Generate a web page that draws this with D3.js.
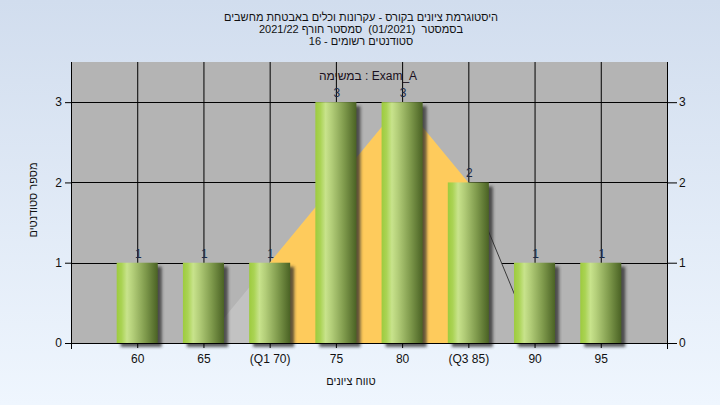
<!DOCTYPE html>
<html><head><meta charset="utf-8">
<script src="https://cdn.jsdelivr.net/npm/d3@7"></script>
<style>body{margin:0;padding:0;overflow:hidden}svg{display:block}text{font-family:"Liberation Sans",Arial,sans-serif}</style>
</head><body>
<svg id="c" width="720" height="405"></svg>
<script>
const categories = [60, 65, 70, 75, 80, 85, 90, 95];
const tickLabels = ["60", "65", "(Q1 70)", "75", "80", "(Q3 85)", "90", "95"];
const counts = [1, 1, 1, 3, 3, 2, 1, 1];
const curveX = [60, 65, 70, 75, 80, 85, 90, 95];
const curveY = [0, 0, 1, 2, 3, 2, 0, 0];
const yTicks = [0, 1, 2, 3];
const titleLines = ["היסטוגרמת ציונים בקורס - עקרונות וכלים באבטחת מחשבים", "בסמסטר  (01/2021)  סמסטר חורף 2021/22", "סטודנטים רשומים - 16"];
const taskLabel = "במשימה : Exam_A";
const xTitle = "טווח ציונים";
const yTitle = "מספר סטודנטים";

const svg = d3.select("#c");
const defs = svg.append("defs");
const bg = defs.append("linearGradient").attr("id","bg").attr("x1",0).attr("y1",0).attr("x2",0).attr("y2",1);
bg.append("stop").attr("offset",0).attr("stop-color","#d1ddee");
bg.append("stop").attr("offset",1).attr("stop-color","#eff6fe");
svg.append("rect").attr("width",720).attr("height",405).attr("fill","url(#bg)");

const L=71, R=667, T=62, B=343;
const x = d3.scaleLinear().domain([55,100]).range([L,R]);
const y = d3.scaleLinear().domain([0,3.5]).range([B,T]);

svg.append("rect").attr("x",L).attr("y",T).attr("width",R-L).attr("height",B-T).attr("fill","#b4b4b4");

// gridlines
const g = svg.append("g");
g.selectAll("line.v").data(categories).join("line")
  .attr("x1",d=>x(d)+0.5).attr("x2",d=>x(d)+0.5).attr("y1",T).attr("y2",B).attr("stroke","#000");
g.selectAll("line.h").data(yTicks.slice(1)).join("line")
  .attr("x1",L).attr("x2",R).attr("y1",d=>Math.round(y(d))+0.5).attr("y2",d=>Math.round(y(d))+0.5).attr("stroke","#000");

// area overlay with horizontal gradient
const ag = defs.append("linearGradient").attr("id","ag").attr("gradientUnits","userSpaceOnUse")
  .attr("x1",L).attr("x2",R).attr("y1",0).attr("y2",0);
const f = v => (x(v)-L)/(R-L);
[[0,"#c2c2c2"],[f(70),"#c2c2c2"],[f(70),"#fecb5c"],[f(85),"#fecb5c"],[f(85),"#b6b6b6"],[1,"#b6b6b6"]]
  .forEach(s=>ag.append("stop").attr("offset",s[0]).attr("stop-color",s[1]));
const pts = curveX.map((v,i)=>[v,curveY[i]]);
svg.append("path").datum(pts)
  .attr("d", d3.area().x(d=>x(d[0])).y0(y(0)).y1(d=>y(d[1])))
  .attr("fill","url(#ag)");
svg.append("path").datum(pts.filter(d=>d[0]>=85&&d[0]<=90))
  .attr("d", d3.line().x(d=>x(d[0])).y(d=>y(d[1])))
  .attr("fill","none").attr("stroke","#3a3a3a").attr("stroke-width",1);

// bars
const bw = (x(65)-x(60))*0.62;
const sh = defs.append("filter").attr("id","sh").attr("x","-20%").attr("y","-20%").attr("width","150%").attr("height","150%");
sh.append("feGaussianBlur").attr("stdDeviation",1.6);
const bgd = defs.append("linearGradient").attr("id","bar").attr("x1",0).attr("x2",1).attr("y1",0).attr("y2",0);
[[0,"#9dcb3e"],[0.12,"#aad354"],[0.25,"#c8e38c"],[0.4,"#b2cd78"],[0.7,"#7f9a4c"],[1,"#4a6224"]]
  .forEach(s=>bgd.append("stop").attr("offset",s[0]).attr("stop-color",s[1]));
const bars = svg.append("g");
bars.selectAll("rect.s").data(categories).join("rect")
  .attr("x",d=>x(d)-bw/2+4).attr("y",(d,i)=>y(counts[i])+4).attr("width",bw).attr("height",(d,i)=>B-y(counts[i]))
  .attr("fill","#2a2a2a").attr("opacity",0.75).attr("filter","url(#sh)");
bars.selectAll("rect.b").data(categories).join("rect")
  .attr("x",d=>x(d)-bw/2).attr("y",(d,i)=>y(counts[i])).attr("width",bw).attr("height",(d,i)=>B-y(counts[i]))
  .attr("fill","url(#bar)");
bars.selectAll("text").data(categories).join("text")
  .attr("x",d=>x(d)+1).attr("y",(d,i)=>y(counts[i])-5).attr("text-anchor","middle")
  .attr("font-size",12).attr("fill","#1c2b48").text((d,i)=>counts[i]);

// axes
const xa = svg.append("g").attr("transform",`translate(0,${B})`)
  .call(d3.axisBottom(x).tickValues(categories).tickFormat((d,i)=>tickLabels[i]).tickSize(5).tickPadding(6));
const ya = svg.append("g").attr("transform",`translate(${L},0)`)
  .call(d3.axisLeft(y).tickValues(yTicks).tickFormat(d3.format("d")).tickSize(6).tickPadding(3));
const yr = svg.append("g").attr("transform",`translate(${R},0)`)
  .call(d3.axisRight(y).tickValues(yTicks).tickFormat(d3.format("d")).tickSize(10).tickPadding(2));
[xa,ya,yr].forEach(a=>{
  a.select(".domain").remove();
  a.selectAll("line").attr("stroke","#000");
  a.selectAll("text").attr("font-size",12).attr("fill","#111").attr("font-family","Liberation Sans, Arial, sans-serif");
});
svg.append("line").attr("x1",L-0.5).attr("x2",R+0.5).attr("y1",B+0.5).attr("y2",B+0.5).attr("stroke","#000");
svg.append("line").attr("x1",L+0.5).attr("x2",L+0.5).attr("y1",T).attr("y2",B+6).attr("stroke","#000");
svg.append("line").attr("x1",R+0.5).attr("x2",R+0.5).attr("y1",T).attr("y2",B+6).attr("stroke","#000");

// texts
svg.append("g").selectAll("text").data(titleLines).join("text")
  .attr("x",361).attr("y",(d,i)=>21+i*12).attr("text-anchor","middle").attr("direction","rtl")
  .style("white-space","pre").attr("xml:space","preserve")
  .attr("font-size",11).attr("fill","#111").text(d=>d);
svg.append("text").attr("x",368).attr("y",80).attr("text-anchor","middle")
  .attr("font-size",12).attr("fill","#1a1020").text(taskLabel);
svg.append("text").attr("x",351).attr("y",385).attr("text-anchor","middle").attr("direction","rtl")
  .attr("font-size",11).attr("fill","#111").text(xTitle);
svg.append("text").attr("transform","translate(37,200) rotate(-90)").attr("text-anchor","middle").attr("direction","rtl")
  .attr("font-size",11).attr("fill","#111").text(yTitle);
</script>
</body></html>
